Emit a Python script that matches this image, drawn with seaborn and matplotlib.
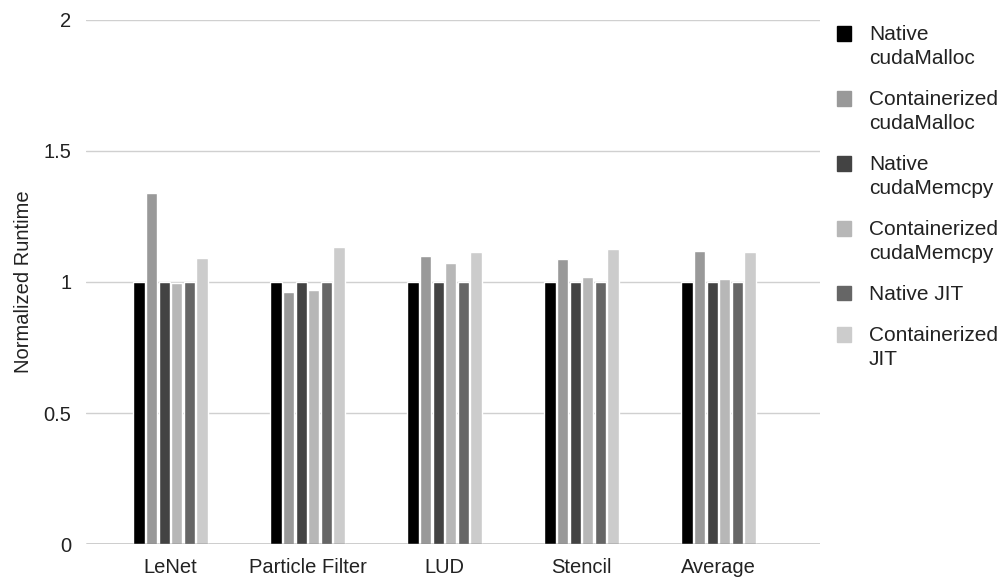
import numpy as np
import pandas as pd
import seaborn as sns
import matplotlib.pyplot as plt
from matplotlib.legend_handler import HandlerPatch

benchmarks = ['LeNet', 'Particle Filter', 'LUD', 'Stencil', 'Average']
series = ['Native\ncudaMalloc', 'Containerized\ncudaMalloc', 'Native\ncudaMemcpy',
          'Containerized\ncudaMemcpy', 'Native JIT', 'Containerized\nJIT']
native_malloc = [1.0, 1.0, 1.0, 1.0, 1.0]
cont_malloc = [1.34, 0.962, 1.099, 1.088, 1.118]
native_memcpy = [1.0, 1.0, 1.0, 1.0, 1.0]
cont_memcpy = [0.996, 0.969, 1.072, 1.019, 1.011]
native_jit = [1.0, 1.0, 1.0, 1.0, 1.0]
cont_jit = [1.092, 1.134, 1.115, 1.126, 1.115]
colors = ['#000000', '#999999', '#434343', '#b7b7b7', '#666666', '#cccccc']

vals = [native_malloc, cont_malloc, native_memcpy, cont_memcpy, native_jit, cont_jit]
df = pd.DataFrame({
    'benchmark': benchmarks * len(series),
    'series': np.repeat(series, len(benchmarks)),
    'value': np.concatenate(vals),
})

sns.set_style('white')
plt.rcParams['font.family'] = ['Liberation Sans', 'DejaVu Sans']

fig = plt.figure(figsize=(10.06, 5.82), dpi=100)
ax = fig.add_axes([0.085, 0.065, 0.73, 0.901])
sns.barplot(data=df, x='benchmark', y='value', hue='series', hue_order=series,
            order=benchmarks, palette=colors, width=0.55, gap=0.1, ax=ax,
            saturation=1, legend=False, zorder=3)

ax.set_ylim(0, 2)
ax.set_yticks([0, 0.5, 1, 1.5, 2])
ax.set_yticklabels(['0', '0.5', '1', '1.5', '2'])
ax.set_xlim(-0.62, 4.74)
ax.yaxis.grid(True, color='#d0d0d0', linewidth=1, zorder=0)
ax.axhline(0, color='#333333', linewidth=1, zorder=4)
for s in ax.spines.values():
    s.set_visible(False)
ax.tick_params(axis='both', length=0, labelsize=14.5, colors='#222222', pad=10)
ax.set_xlabel('')
ax.set_ylabel('Normalized Runtime', fontsize=14.5, color='#222222', labelpad=8)


# square legend keys sitting next to the first line of two-line labels
def square_patch(shift):
    def make(legend, orig_handle, xdescent, ydescent, width, height, fontsize):
        side = 10.5
        return plt.Rectangle((-xdescent, -ydescent + (height - side) / 2 + shift), side, side)
    return make


handles = [plt.Rectangle((0, 0), 1, 1, color=c) for c in colors]
hmap = {h: HandlerPatch(patch_func=square_patch(9.5 if '\n' in lab else 0.0))
        for h, lab in zip(handles, series)}
leg = fig.legend(handles, series, loc='upper left', bbox_to_anchor=(0.813, 0.99),
                 frameon=False, fontsize=15, handlelength=0.75, handleheight=0.75,
                 labelspacing=1.05, handletextpad=0.8, labelcolor='#222222',
                 handler_map=hmap)
for t in leg.get_texts():
    t.set_linespacing(1.35)

fig.savefig('out.png', dpi=100)
